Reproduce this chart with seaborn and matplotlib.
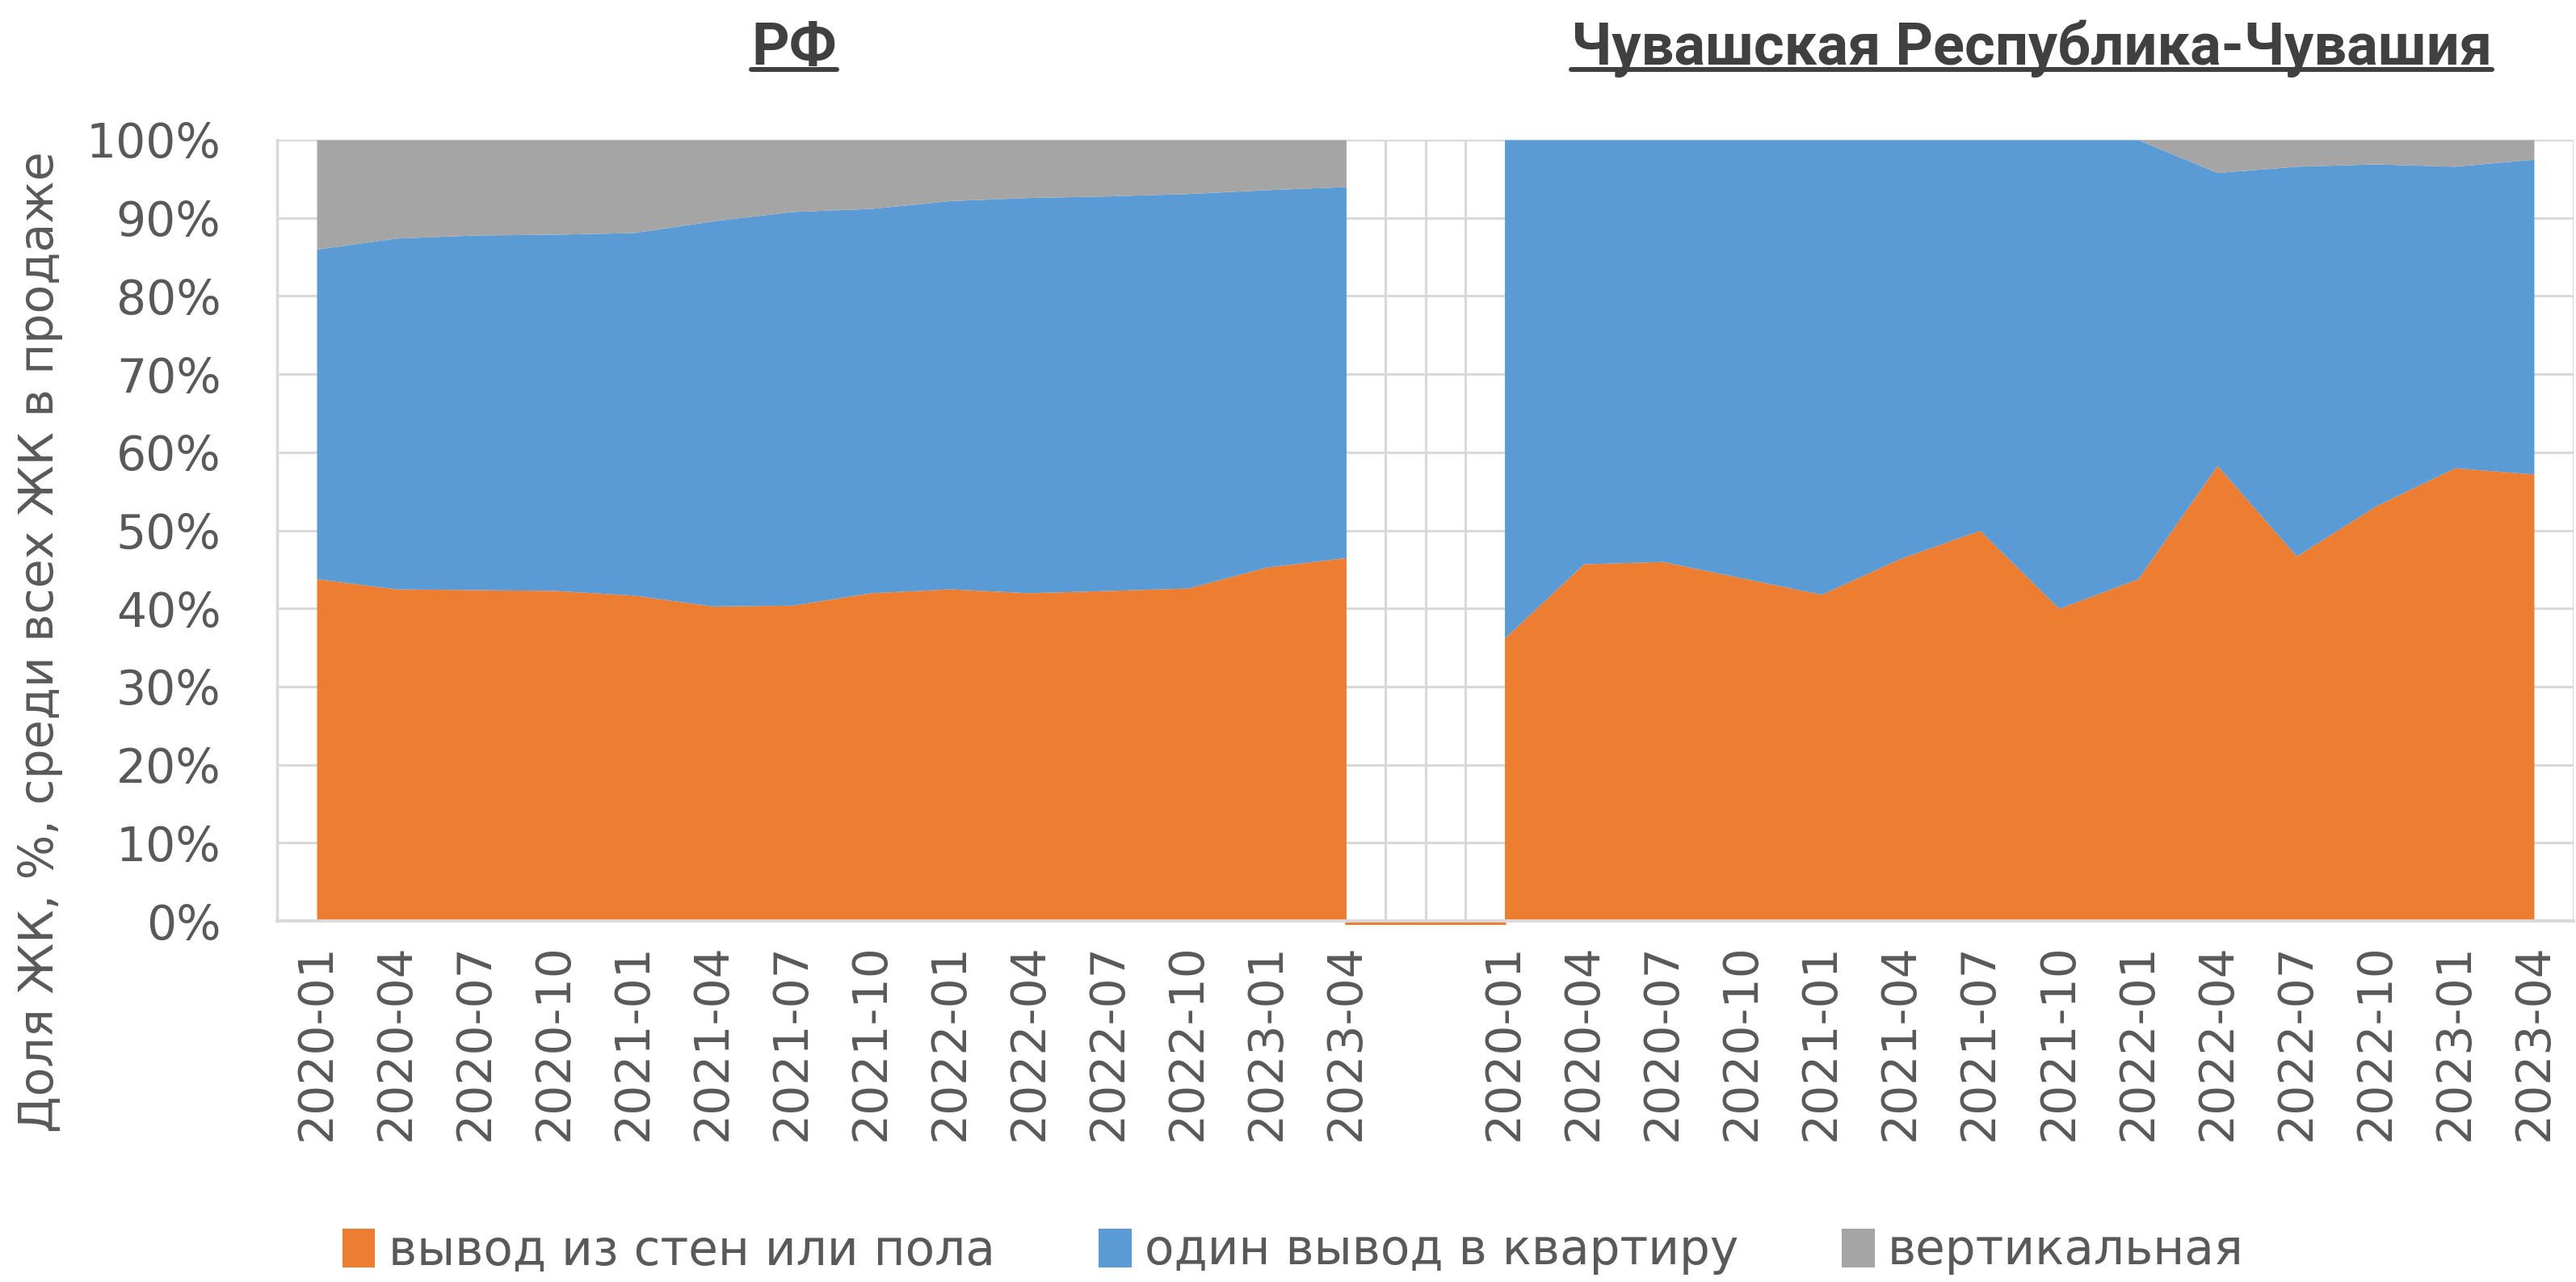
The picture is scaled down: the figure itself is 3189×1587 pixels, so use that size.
import numpy as np
import pandas as pd
import matplotlib
matplotlib.use("Agg")
import matplotlib.pyplot as plt
import seaborn as sns
from matplotlib.patches import Patch
from matplotlib.lines import Line2D

# ---- data (share of residential complexes, %) ----
dates = ["2020-01", "2020-04", "2020-07", "2020-10", "2021-01", "2021-04", "2021-07",
         "2021-10", "2022-01", "2022-04", "2022-07", "2022-10", "2023-01", "2023-04"]

rf_walls = [43.8, 42.5, 42.4, 42.3, 41.7, 40.3, 40.4, 42.0, 42.5, 42.0, 42.3, 42.6, 45.3, 46.5]
rf_single = [42.2, 44.9, 45.4, 45.6, 46.4, 49.3, 50.4, 49.2, 49.7, 50.6, 50.5, 50.5, 48.3, 47.5]
rf_vertical = [14.0, 12.6, 12.2, 12.1, 11.9, 10.4, 9.2, 8.8, 7.8, 7.4, 7.2, 6.9, 6.4, 6.0]

chv_walls = [36.2, 45.7, 46.0, 43.9, 41.8, 46.4, 50.0, 40.0, 43.8, 58.3, 46.7, 53.1, 58.0, 57.2]
chv_single = [63.8, 54.3, 54.0, 56.1, 58.2, 53.6, 50.0, 60.0, 56.2, 37.5, 49.9, 43.8, 38.6, 40.3]
chv_vertical = [0.0, 0.0, 0.0, 0.0, 0.0, 0.0, 0.0, 0.0, 0.0, 4.2, 3.4, 3.1, 3.4, 2.5]

series_names = ["вывод из стен или пола", "один вывод в квартиру", "вертикальная"]
series_colors = ["#ED7D31", "#5B9BD5", "#A5A5A5"]
panel_titles = ["РФ", "Чувашская Республика-Чувашия"]
y_label = "Доля ЖК, %, среди всех ЖК в продаже"

# ---- layout: one category axis, RF block, one empty slot, region block ----
n = len(dates)
x_rf = np.arange(n)
x_chv = np.arange(n) + n + 1
gap_x = [n - 1, n + 1]
gap_walls = [0.0, 0.0]

sns.set_theme(style="white")
plt.rcParams["font.family"] = ["DejaVu Sans"]
text_color = "#595959"
grid_color = "#D9D9D9"

W, H = 3189, 1587
fig = plt.figure(figsize=(W / 100, H / 100), dpi=100)
ax = fig.add_axes([343 / W, 1 - 1140 / H, (3186 - 343) / W, (1140 - 173) / H])

ax.stackplot(x_rf, rf_walls, rf_single, rf_vertical, colors=series_colors,
             linewidth=0, zorder=2)
ax.stackplot(x_chv, chv_walls, chv_single, chv_vertical, colors=series_colors,
             linewidth=0, zorder=2)
sns.lineplot(x=gap_x, y=np.array(gap_walls) - 0.35, color=series_colors[0],
             linewidth=2.2, ax=ax, zorder=4, clip_on=False)

ax.set_xlim(-0.5, 2 * n + 0.5)
ax.set_ylim(0, 100)

# grid
ax.set_yticks(np.arange(0, 101, 10))
ax.set_yticklabels([f"{v}%" for v in range(0, 101, 10)])
ax.yaxis.grid(True, color=grid_color, linewidth=2.2, zorder=0)
ax.set_xticks(np.arange(-0.5, 2 * n + 0.6, 0.5), minor=True)
ax.xaxis.grid(True, which="minor", color=grid_color, linewidth=2.2, zorder=0)
ax.xaxis.grid(False, which="major")
ax.set_axisbelow(True)

ticks = list(x_rf) + list(x_chv)
ax.set_xticks(ticks)
ax.set_xticklabels(dates + dates, rotation=90)
ax.tick_params(axis="x", which="both", length=0, pad=20, labelsize=42, colors=text_color)
ax.tick_params(axis="y", length=0, pad=50, labelsize=42, colors=text_color)

for side in ["top", "right"]:
    ax.spines[side].set_visible(False)
ax.spines["left"].set_color(grid_color)
ax.spines["left"].set_linewidth(2.5)
ax.spines["bottom"].set_color(grid_color)
ax.spines["bottom"].set_linewidth(2.8)
ax.spines["bottom"].set_zorder(3)

fig.text(50 / W, 1 - 795 / H, y_label, rotation=90, ha="center", va="center",
         fontsize=42, color=text_color)

# panel titles with underline
title_x = [983 / W, 2515 / W]
titles = []
for tx, t in zip(title_x, panel_titles):
    titles.append(fig.text(tx, 1 - 80 / H, t, ha="center", va="baseline",
                           fontsize=52, fontweight="bold", color="#404040",
                           family=["Roboto", "DejaVu Sans"]))
fig.canvas.draw()
r = fig.canvas.get_renderer()
for t in titles:
    bb = t.get_window_extent(renderer=r)
    y_ul = 1 - 86 / H
    fig.add_artist(Line2D([bb.x0 / W, bb.x1 / W], [y_ul, y_ul], transform=fig.transFigure,
                          color="#404040", linewidth=4.3))

handles = [Patch(facecolor=c, edgecolor="none") for c in series_colors]
fig.legend(handles, series_names, loc="center", bbox_to_anchor=(0.502, 1 - 1549 / H),
           ncol=3, frameon=False, fontsize=43, labelcolor=text_color,
           handlelength=0.68, handleheight=0.85, handletextpad=0.27, columnspacing=2.15)

fig.savefig("out.png", dpi=100)
